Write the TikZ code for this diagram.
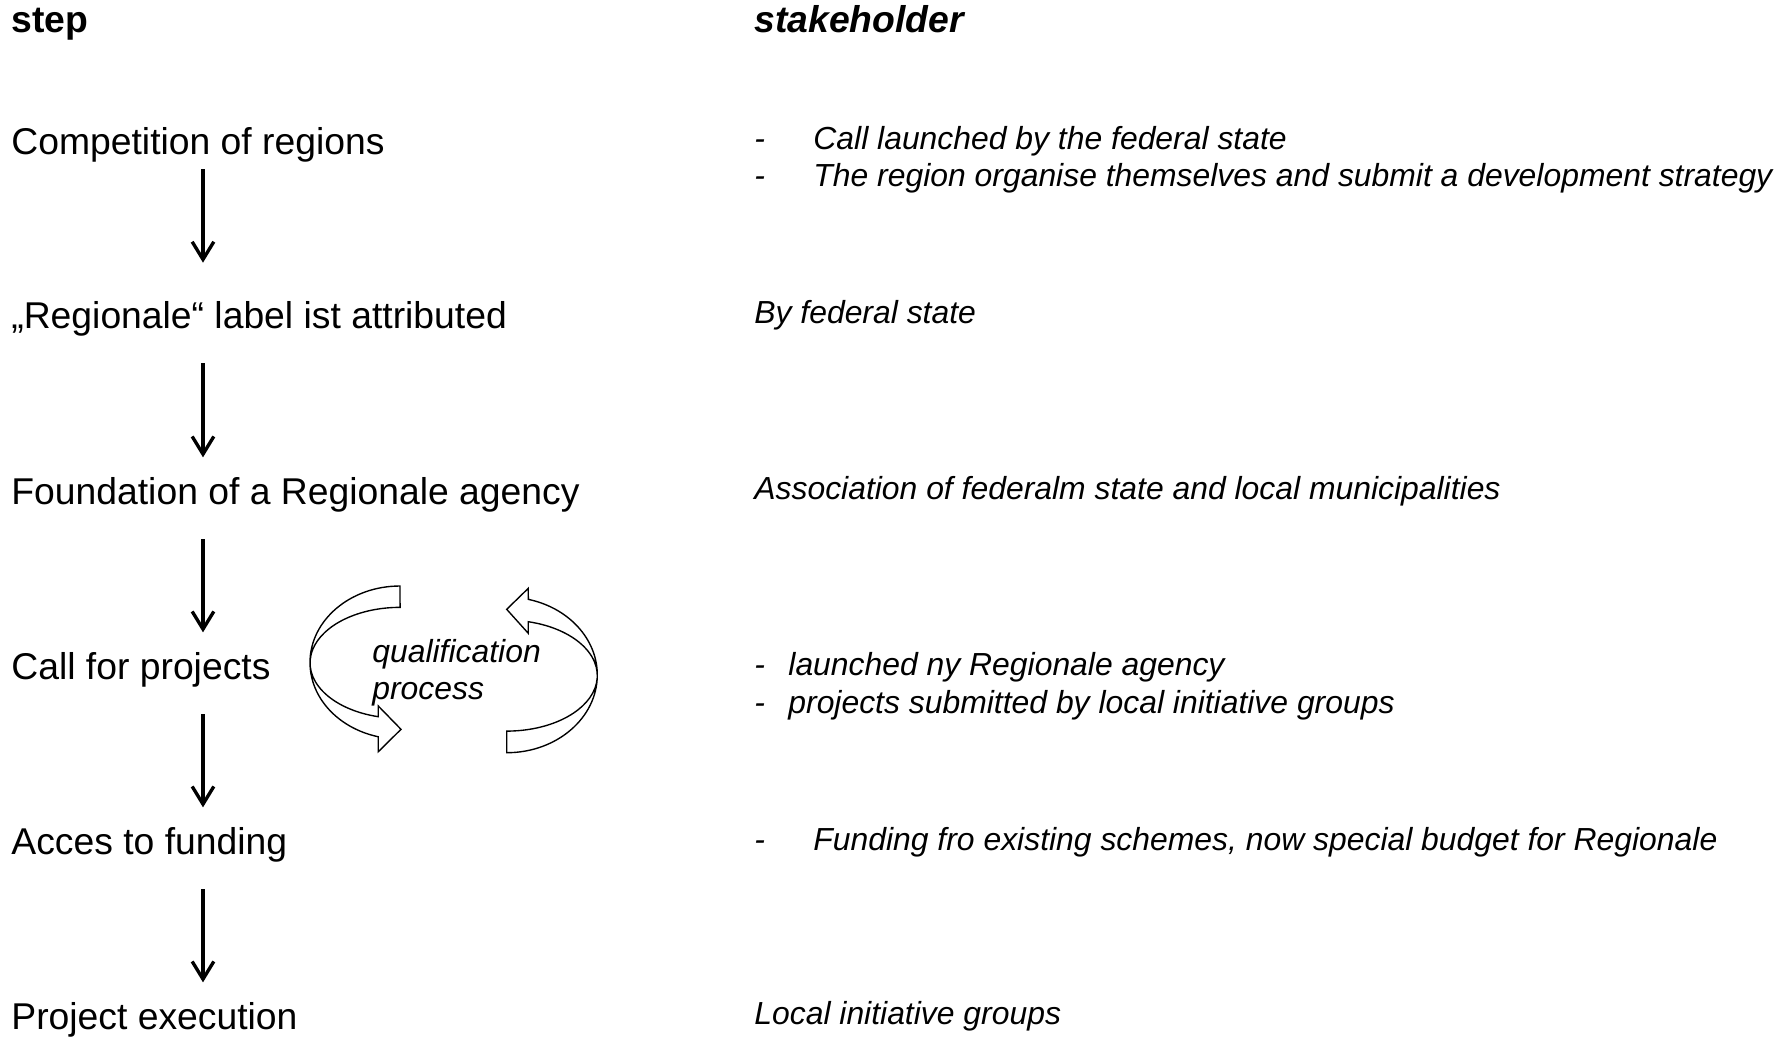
\documentclass[tikz,border=0pt]{standalone}
\usepackage{fontspec}
\setmainfont{Liberation Sans}
\usetikzlibrary{arrows.meta}

\newcommand{\stepfont}{\fontsize{18.95pt}{22pt}\selectfont}
\newcommand{\holderfont}{\fontsize{16.2pt}{19.3pt}\selectfont\itshape}

\begin{document}
\begin{tikzpicture}[x=0.50806pt,y=-0.50806pt,
  step text/.style={anchor=base west,inner sep=0pt,text height=13.5pt,text depth=4pt,font=\stepfont},
  holder text/.style={anchor=base west,inner sep=0pt,font=\holderfont},
  head text/.style={anchor=base west,inner sep=0pt,font=\stepfont\bfseries},
  flow/.style={line width=1.7pt,-{Straight Barb[length=9pt,width=11pt]},shorten <=13.7pt,shorten >=10pt},
  band/.style={draw,line width=0.7pt,line join=miter}]
\useasboundingbox (0,0) rectangle (1792,1037);
\coordinate (ax) at (203,0);

% Headings
\node[head text] (steph) at (11,32) {step};
\node[head text] (holderh) at (754,32) {\itshape stakeholder};

% Steps
\node[step text] (comp) at (11,154) {Competition of regions};
\node[step text] (attr) at (11,328) {„Regionale“ label ist attributed};
\node[step text] (agency) at (11,504) {Foundation of a Regionale agency};
\node[step text] (call) at (11,679) {Call for projects};
\node[step text] (fund) at (11,854) {Acces to funding};
\node[step text] (exec) at (11,1029) {Project execution};

% Stakeholders
\node[holder text] (comps) at (754,149) {\begin{tabular}[t]{@{}p{30pt}@{}l@{}}-&Call launched by the federal state\\-&The region organise themselves and submit a development strategy\end{tabular}};
\node[holder text] (attrs) at (754,323) {By federal state};
\node[holder text] (agencys) at (754,499) {Association of federalm state and local municipalities};
\node[holder text] (calls) at (754,675) {\begin{tabular}[t]{@{}p{17.3pt}@{}l@{}}-&launched ny Regionale agency\\-&projects submitted by local initiative groups\end{tabular}};
\node[holder text] (funds) at (754,850) {\begin{tabular}[t]{@{}p{30pt}@{}l@{}}-&Funding fro existing schemes, now special budget for Regionale\end{tabular}};
\node[holder text] (execs) at (754,1024) {Local initiative groups};

% Flow arrows
\draw[flow,shorten <=3.6pt,shorten >=19.5pt] (comp.south -| ax) -- (attr.north -| ax);
\draw[flow] (attr.south -| ax) -- (agency.north -| ax);
\draw[flow] (agency.south -| ax) -- (call.north -| ax);
\draw[flow] (call.south -| ax) -- (fund.north -| ax);
\draw[flow] (fund.south -| ax) -- (exec.north -| ax);

% Qualification loop
\draw[band] (400,586) arc[start angle=270,end angle=104,x radius=90,y radius=76.5]
  -- (378.3,751.7) -- (401,729.3) -- (378.3,706) -- (378.3,716.7)
  arc[start angle=104,end angle=270,x radius=90,y radius=55.5] -- cycle;
\draw[band] (506.7,752.7) arc[start angle=90,end angle=-76.2,x radius=90.6,y radius=77.8]
  -- (528.3,588.3) -- (506.7,609.3) -- (528.3,633.3) -- (528.3,621.7)
  arc[start angle=-76.2,end angle=90,x radius=90.6,y radius=55.5] -- cycle;
\node[holder text,font=\fontsize{16.2pt}{19.2pt}\selectfont\itshape] (qual) at (372,662) {\begin{tabular}[t]{@{}l@{}}qualification\\process\end{tabular}};

\end{tikzpicture}
\end{document}
